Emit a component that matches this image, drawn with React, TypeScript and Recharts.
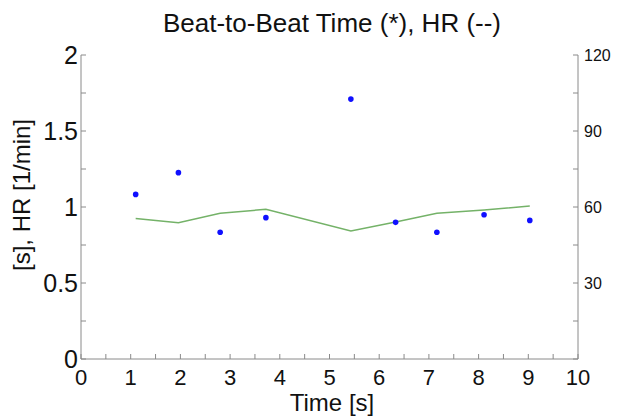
import {
  ComposedChart,
  Line,
  Scatter,
  XAxis,
  YAxis,
} from "recharts";

// beat times [s], beat-to-beat interval [s], heart rate [1/min]
const beatTimes = [1.1, 1.96, 2.8, 3.72, 5.43, 6.33, 7.16, 8.11, 9.03];
const beatIntervals = [1.083, 1.226, 0.834, 0.93, 1.71, 0.899, 0.834, 0.949, 0.912];
const heartRate = [55.5, 53.8, 57.5, 59.1, 50.5, 54.1, 57.5, 58.8, 60.4];

const timeTicks = [0, 0.5, 1, 1.5, 2, 2.5, 3, 3.5, 4, 4.5, 5, 5.5, 6, 6.5, 7, 7.5, 8, 8.5, 9, 9.5, 10];
const leftTicks = [0, 0.25, 0.5, 0.75, 1, 1.25, 1.5, 1.75, 2];
const rightTicks = [0, 15, 30, 45, 60, 75, 90, 105, 120];

const data = beatTimes.map((t, i) => ({
  t,
  interval: beatIntervals[i],
  hr: heartRate[i],
}));

const FONT = "'Liberation Sans', Arial, sans-serif";
const AXIS = "#8a8a8a";
const TICK_LEN = 5;

const BottomTick = ({ x, y, payload }: any) => {
  const v = payload.value;
  return (
    <g>
      <line x1={x} x2={x} y1={y} y2={y - TICK_LEN} stroke={AXIS} />
      {Number.isInteger(v) && (
        <text x={x} y={y + 26} textAnchor="middle" fontSize={22} fontFamily={FONT} fill="#111">
          {v}
        </text>
      )}
    </g>
  );
};

const TopTick = ({ x, y }: any) => (
  <line x1={x} x2={x} y1={y} y2={y + TICK_LEN} stroke={AXIS} />
);

const LeftTick = ({ x, y, payload }: any) => {
  const v = payload.value;
  return (
    <g>
      <line x1={x} x2={x + TICK_LEN} y1={y} y2={y} stroke={AXIS} />
      {v % 0.5 === 0 && (
        <text x={x - 3} y={y + 9} textAnchor="end" fontSize={25} fontFamily={FONT} fill="#111">
          {v}
        </text>
      )}
    </g>
  );
};

const RightTick = ({ x, y, payload }: any) => {
  const v = payload.value;
  return (
    <g>
      <line x1={x} x2={x - TICK_LEN} y1={y} y2={y} stroke={AXIS} />
      {v % 30 === 0 && v > 0 && (
        <text x={x + 6} y={y + 6} textAnchor="start" fontSize={16} fontFamily={FONT} fill="#111">
          {v}
        </text>
      )}
    </g>
  );
};

export default function App() {
  return (
    <div style={{ position: "absolute", left: 0, top: 0, background: "#fff" }}>
      <ComposedChart
        width={619}
        height={416}
        data={data}
        margin={{ top: 55, right: 0, bottom: 0, left: 0 }}
      >
        <XAxis
          xAxisId="bottom"
          dataKey="t"
          type="number"
          domain={[0, 10]}
          ticks={timeTicks}
          interval={0}
          height={57}
          tickSize={0}
          tickMargin={0}
          tickLine={false}
          axisLine={{ stroke: AXIS }}
          tick={<BottomTick />}
        />
        <XAxis
          xAxisId="top"
          orientation="top"
          dataKey="t"
          type="number"
          domain={[0, 10]}
          ticks={timeTicks}
          interval={0}
          height={0}
          tickSize={0}
          tickMargin={0}
          tickLine={false}
          axisLine={{ stroke: AXIS }}
          tick={<TopTick />}
        />
        <YAxis
          yAxisId="left"
          type="number"
          domain={[0, 2]}
          ticks={leftTicks}
          interval={0}
          width={81}
          tickSize={0}
          tickMargin={0}
          tickLine={false}
          axisLine={{ stroke: AXIS }}
          tick={<LeftTick />}
        />
        <YAxis
          yAxisId="right"
          orientation="right"
          type="number"
          domain={[0, 120]}
          ticks={rightTicks}
          interval={0}
          width={41}
          tickSize={0}
          tickMargin={0}
          tickLine={false}
          axisLine={{ stroke: AXIS }}
          tick={<RightTick />}
        />
        <Line
          xAxisId="bottom"
          yAxisId="right"
          type="linear"
          dataKey="hr"
          stroke="#74b268"
          strokeWidth={1.5}
          dot={false}
          isAnimationActive={false}
        />
        <Scatter
          xAxisId="bottom"
          yAxisId="left"
          dataKey="interval"
          fill="#1010ff"
          shape={(p: any) => <circle cx={p.cx} cy={p.cy} r={2.8} fill="#1010ff" />}
          isAnimationActive={false}
        />
        <text x={332} y={32} textAnchor="middle" fontSize={26} fontFamily={FONT} fill="#111">
          Beat-to-Beat Time (*), HR (--)
        </text>
        <text x={332} y={411} textAnchor="middle" fontSize={24} fontFamily={FONT} fill="#111">
          Time [s]
        </text>
        <text
          x={30}
          y={195}
          transform="rotate(-90, 30, 195)"
          textAnchor="middle"
          fontSize={24}
          fontFamily={FONT}
          fill="#111"
        >
          [s], HR [1/min]
        </text>
      </ComposedChart>
    </div>
  );
}
